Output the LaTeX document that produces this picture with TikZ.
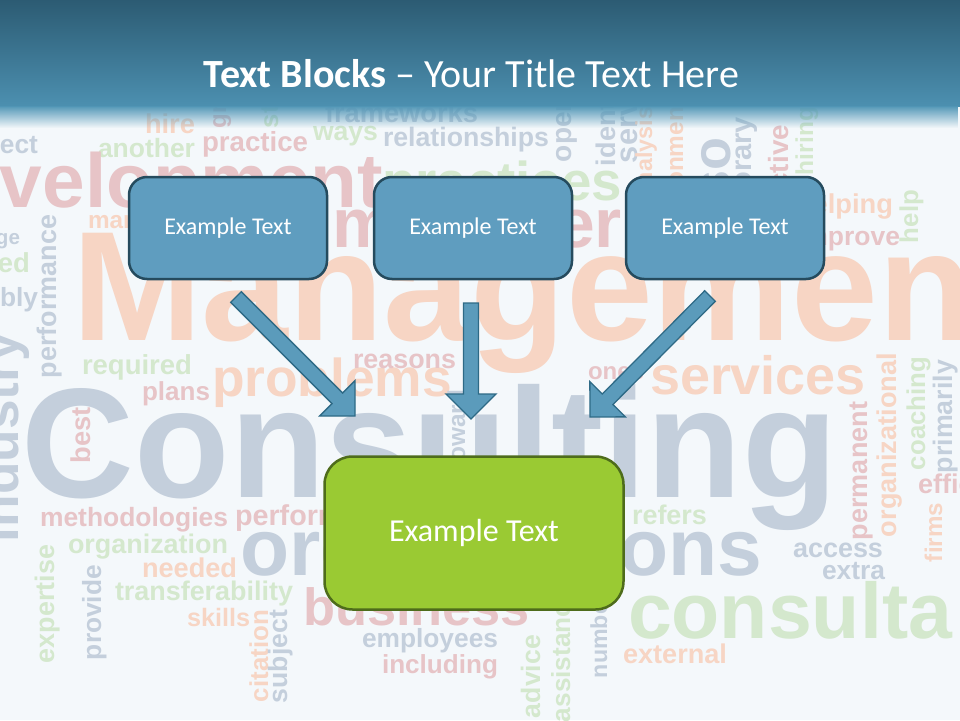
\documentclass[tikz,border=0pt]{standalone}
\usepackage{fontspec}
\usepackage{graphicx}
\setmainfont{Carlito}
\newfontfamily\cloudfont{Liberation Sans}
\usetikzlibrary{calc,fadings}
\definecolor{bgcol}{HTML}{F4F8FB}
\definecolor{titleTop}{HTML}{2C5B73}
\definecolor{titleBot}{HTML}{4C90B0}
\definecolor{titleFade}{HTML}{5196B6}
\definecolor{wOrange}{HTML}{F7D5C4}
\definecolor{wPink}{HTML}{E7C4C7}
\definecolor{wGrey}{HTML}{C4CFDC}
\definecolor{wGreen}{HTML}{D4E8CD}
\definecolor{boxFill}{HTML}{5F9DBF}
\definecolor{boxEdge}{HTML}{254B5E}
\definecolor{arrowFill}{HTML}{5B9BBB}
\definecolor{arrowEdge}{HTML}{2E6A86}
\definecolor{greenFill}{HTML}{9ACA33}
\definecolor{greenEdge}{HTML}{4E6C1B}
\tikzfading[name=fadesouth, top color=transparent!0, bottom color=transparent!100]
\tikzset{
  cloudword/.style={inner sep=0pt, outer sep=0pt, anchor=base west,
    font=\cloudfont\bfseries\fontsize{20}{24}\selectfont},
  topbox/.style={draw=boxEdge, line width=2.5pt, fill=boxFill, rounded corners=18pt,
    minimum width=198pt, minimum height=102pt, inner sep=0pt, text=white,
    font=\fontsize{24}{28}\selectfont},
  bottombox/.style={draw=greenEdge, line width=2.5pt, fill=greenFill, rounded corners=28pt,
    minimum width=299pt, minimum height=153pt, inner sep=0pt, text=white,
    font=\fontsize{32}{38}\selectfont},
  titletext/.style={anchor=base, inner sep=0pt, text=white, font=\fontsize{40}{48}\selectfont},
  blockarrowstyle/.style={fill=arrowFill, draw=arrowEdge, line width=1.3pt, line join=miter}
}
\newcounter{wc}
\newcommand\cw[6]{\stepcounter{wc}\node[cloudword, text=#4, rotate=#5, name=w\arabic{wc}] at (#1,#2) {\resizebox{#3pt}{!}{#6}};}
\newcommand\blockarrow[2]{%
  \coordinate (hb) at ($(#2)!25pt!(#1)$);
  \draw[blockarrowstyle] ($(#1)!7.5pt!90:(#2)$) -- ($(hb)!7.5pt!90:(#2)$) -- ($(hb)!25pt!90:(#2)$) -- (#2)
    -- ($(hb)!25pt!-90:(#2)$) -- ($(hb)!7.5pt!-90:(#2)$) -- ($(#1)!7.5pt!-90:(#2)$) -- cycle;}
\begin{document}
\begin{tikzpicture}[x=1pt, y=-1pt]
\useasboundingbox (0,0) rectangle (960,720);
\fill[bgcol] (0,0) rectangle (960,720);
\begin{scope}
\clip (0,0) rectangle (960,720);
% horizontal words
\cw{0}{153}{38}{wGrey}{0}{ect}
\cw{145}{133}{50}{wOrange}{0}{hire}
\cw{325}{122}{153}{wGrey}{0}{frameworks}
\cw{98}{157}{97}{wGreen}{0}{another}
\cw{202}{151}{106}{wPink}{0}{practice}
\cw{313}{140}{65}{wGreen}{0}{ways}
\cw{383}{146}{166}{wGrey}{0}{relationships}
\cw{0}{207}{383}{wPink}{0}{velopment}
\cw{382}{200}{240}{wGreen}{0}{practices}
\cw{88}{228}{150}{wOrange}{0}{management}
\cw{332}{247}{290}{wPink}{0}{manager}
\cw{796}{213}{97}{wOrange}{0}{helping}
\cw{797}{245}{103}{wPink}{0}{improve}
\cw{-4}{244}{24}{wGrey}{0}{ge}
\cw{-2}{272}{32}{wGreen}{0}{ed}
\cw{0}{306}{38}{wGrey}{0}{bly}
\cw{72}{340}{953}{wOrange}{0}{Management}
\cw{82}{374}{110}{wGreen}{0}{required}
\cw{142}{400}{68}{wPink}{0}{plans}
\cw{212}{396}{240}{wOrange}{0}{problems}
\cw{353}{368}{103}{wPink}{0}{reasons}
\cw{588}{379}{56}{wPink}{0}{ones}
\cw{650}{394}{216}{wOrange}{0}{services}
\cw{22}{497}{815}{wGrey}{0}{Consulting}
\cw{40}{526}{188}{wPink}{0}{methodologies}
\cw{235}{525}{174}{wPink}{0}{performance}
\cw{68}{553}{160}{wGreen}{0}{organization}
\cw{240}{575}{522}{wGrey}{0}{organizations}
\cw{632}{524}{75}{wGreen}{0}{refers}
\cw{793}{557}{90}{wGrey}{0}{access}
\cw{822}{579}{63}{wGrey}{0}{extra}
\cw{142}{577}{95}{wOrange}{0}{needed}
\cw{115}{600}{178}{wGreen}{0}{transferability}
\cw{187}{626}{63}{wOrange}{0}{skills}
\cw{303}{625}{227}{wPink}{0}{business}
\cw{362}{647}{136}{wGrey}{0}{employees}
\cw{382}{673}{116}{wPink}{0}{including}
\cw{628}{638}{324}{wGreen}{0}{consulta}
\cw{623}{663}{104}{wOrange}{0}{external}
\cw{918}{493}{125}{wPink}{0}{efficiency}
% vertical words (reading upwards)
\cw{56}{378}{163}{wGrey}{90}{performance}
\cw{18}{542}{210}{wGrey}{90}{industry}
\cw{90}{463}{56}{wPink}{90}{best}
\cw{54}{663}{118}{wGreen}{90}{expertise}
\cw{101}{660}{95}{wGrey}{90}{provide}
\cw{268}{702}{92}{wOrange}{90}{citation}
\cw{287}{703}{93}{wGrey}{90}{subject}
\cw{540}{718}{83}{wGreen}{90}{advice}
\cw{570}{722}{134}{wGreen}{90}{assistance}
\cw{607}{678}{85}{wGrey}{90}{number}
\cw{867}{540}{138}{wPink}{90}{permanent}
\cw{896}{537}{184}{wOrange}{90}{organizational}
\cw{925}{470}{113}{wGreen}{90}{coaching}
\cw{952}{473}{113}{wGrey}{90}{primarily}
\cw{942}{562}{59}{wOrange}{90}{firms}
\cw{465}{470}{80}{wGrey}{90}{toward}
\cw{918}{243}{53}{wGreen}{90}{help}
\cw{571}{162}{67}{wGrey}{90}{open}
\cw{615}{166}{96}{wGrey}{90}{identify}
\cw{637}{163}{106}{wGrey}{90}{service}
\cw{652}{199}{92}{wOrange}{90}{analysis}
\cw{683}{245}{146}{wOrange}{90}{environment}
\cw{730}{246}{108}{wGrey}{90}{also}
\cw{751}{259}{142}{wGrey}{90}{temporary}
\cw{788}{238}{113}{wPink}{90}{effective}
\cw{813}{175}{68}{wGreen}{90}{hiring}
\cw{226}{128}{80}{wPink}{90}{growth}
\cw{278}{128}{100}{wGreen}{90}{strategy}
\end{scope}
% title band
\shade[top color=titleTop, bottom color=titleBot] (0,0) rectangle (960,106);
\fill[titleFade, path fading=fadesouth] (0,105.5) rectangle (960,128);
\node[titletext] (title) at (471.5,87) {\textbf{Text Blocks} – Your Title Text Here};
% boxes
\node[topbox] (b1) at (228,228) {Example Text};
\node[topbox] (b2) at (473,228) {Example Text};
\node[topbox] (b3) at (725,228) {Example Text};
\node[bottombox] (c) at (474,533) {Example Text};
% arrows
\coordinate (s1) at (236,297); \coordinate (t1) at (355,416);
\coordinate (s2) at (471,303); \coordinate (t2) at (471,419);
\coordinate (s3) at (710,296); \coordinate (t3) at (590,417);
\blockarrow{s1}{t1}
\blockarrow{s2}{t2}
\blockarrow{s3}{t3}
\end{tikzpicture}
\end{document}
